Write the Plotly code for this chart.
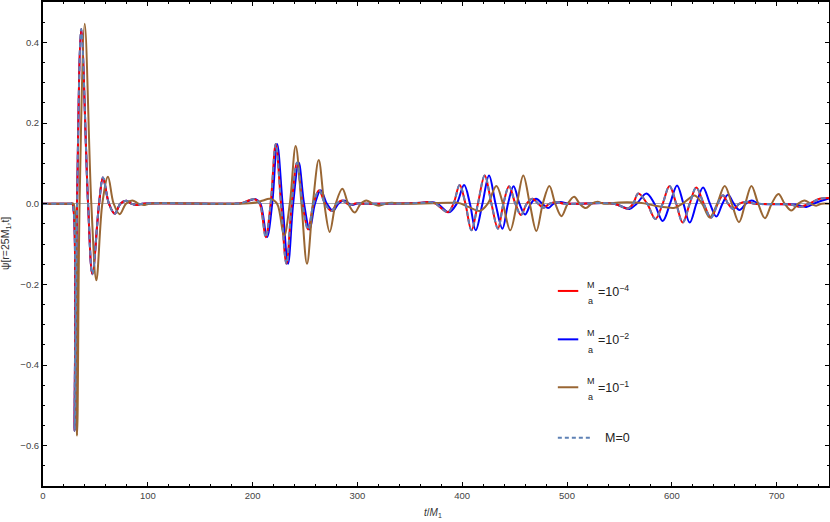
import plotly.graph_objects as go

# psi(r=25 M1, t): peaks, troughs and zero crossings
# M/a = 1e-4 (red); the M=0 dashed curve sits exactly on top of it
t_red = [0, 26.7, 28.0, 30.2, 32.5, 36.5, 43.0, 47.1, 53.5, 57.2, 62.9, 68.4, 73.8, 79.5, 84.2, 89.1, 95.1,
         183, 190.2, 196.1, 202.1, 206.8, 212.5, 217.2, 222.1, 227.1, 232.3, 237.3, 242.4, 247.6, 252.9,
         258.1, 263.4, 269.2, 275.2, 280.3, 285.3, 292.2, 299.1, 307,
         361.5, 368.5, 374.4, 386.3, 391.7, 397.6, 403.1, 408.8, 415, 421.5, 427.9, 434.1, 439.3, 444.7,
         450.7, 456.1, 461.6, 467, 472.5, 477.4, 483.4, 490.3, 497.2,
         544.8, 558.2, 563.1, 568, 576.5, 584.4, 591.3, 597.8, 604.2, 610.4, 617.1, 623.3, 630.5, 637.4,
         643.8, 648.8, 653.7, 658.7, 664.6, 671.1, 678.5, 713.2, 722.1, 731, 741, 750]
psi_red = [0, 0, 0, -0.563, 0, 0.433, 0, -0.175, 0, 0.065, 0, -0.025, 0, 0.007, 0, -0.003, 0,
           0, 0.002, 0.008, 0.011, 0, -0.083, 0, 0.148, 0, -0.149, 0, 0.102, 0, -0.064,
           0, 0.033, 0, -0.018, 0, 0.008, -0.003, 0.001, 0,
           0.002, 0.004, 0, -0.021, 0, 0.046, 0, -0.066, 0, 0.07, 0, -0.062, 0, 0.043,
           0, -0.028, 0, 0.012, 0, -0.01, 0, 0.004, 0,
           0, -0.012, 0, 0.025, 0, -0.038, 0, 0.044, 0, -0.047, 0, 0.04, 0, -0.035,
           0, 0.021, 0, -0.013, 0, 0.005, 0, -0.002, -0.008, 0, 0.012, 0.014]

# M/a = 1e-2 (blue)
t_blue = [0, 26.7, 28.0, 30.2, 32.5, 36.5, 43.0, 47.1, 53.5, 57.2, 62.9, 68.4, 73.8, 79.5, 84.2, 89.1, 95.1,
          183, 191.2, 197.1, 203, 207.5, 213.7, 218.7, 223.4, 228.6, 233.8, 238.7, 244, 249.1, 254.4,
          259.5, 265, 270.9, 276.8, 281.8, 287.2, 294.2, 301.1, 309,
          361.5, 369.5, 376.4, 387.3, 394.8, 401.8, 407.4, 412.9, 419.3, 425.6, 431.8, 438.4, 443.7, 449,
          454.6, 460, 465.5, 470.5, 476.4, 481.9, 487.3, 493.8, 501.2,
          544.8, 559.6, 566.5, 575.8, 583.4, 591.3, 598.3, 605, 611.1, 617.1, 623.5, 629.8, 636.4, 642.5,
          648.3, 653.6, 659.2, 664.6, 670.6, 676, 683.4, 718.1, 728.4, 738, 750]
psi_blue = [0, 0, 0, -0.563, 0, 0.433, 0, -0.175, 0, 0.065, 0, -0.025, 0, 0.007, 0, -0.003, 0,
            0, 0.002, 0.008, 0.011, 0, -0.083, 0, 0.148, 0, -0.149, 0, 0.102, 0, -0.064,
            0, 0.033, 0, -0.018, 0, 0.008, -0.003, 0.001, 0,
            0.002, 0.004, 0, -0.021, 0, 0.046, 0, -0.066, 0, 0.07, 0, -0.062, 0, 0.043,
            0, -0.027, 0, 0.012, 0, -0.011, 0, 0.004, 0,
            0, -0.013, 0, 0.025, 0, -0.043, 0, 0.045, 0, -0.047, 0, 0.04, 0, -0.032,
            0, 0.022, 0, -0.016, 0, 0.008, 0, -0.002, -0.008, 0.003, 0.013]

# M/a = 1e-1 (brown)
t_brown = [0, 27.5, 29.2, 32.5, 34.9, 39.8, 46.1, 50.9, 56.6, 62, 67.4, 73.2, 79.2, 85.3, 91.1, 96.1, 102,
           188, 203, 210, 216.3, 223.3, 230, 235.5, 241.1, 246.6, 251.9, 257.5, 263.1, 268.4, 273.6,
           279.3, 285.7, 291.2, 297.4, 303.1, 308.6, 314.5, 320.6, 326.9, 332.8, 341.7,
           386.3, 396.2, 406.1, 416.7, 424.4, 432.6, 438.8, 445.8, 452.2, 458.3, 464.5, 470.8, 476.9,
           483.2, 488.8, 494.7, 500.7, 506.8, 512.1, 518, 523.5, 529.2, 534.9,
           549.7, 569.5, 584.4, 594.3, 602.8, 610.1, 616.1, 621.8, 628.9, 636.2, 643.3, 650.5, 657.2,
           664.1, 670.1, 676, 682.4, 688.9, 695.3, 701.8, 707.7, 714.1, 720.6, 726.7, 732.5, 737.7, 743, 750]
psi_brown = [0, 0, 0, -0.575, 0, 0.446, 0, -0.19, 0, 0.067, 0, -0.026, 0, 0.008, 0, -0.003, 0,
             0, 0.003, 0.008, 0.012, 0, -0.08, 0, 0.143, 0, -0.149, 0, 0.108, 0, -0.07,
             0, 0.037, 0, -0.022, 0, 0.008, 0, -0.005, 0, 0.002, 0,
             0.002, 0.002, -0.008, -0.018, 0, 0.044, 0, -0.066, 0, 0.07, 0, -0.068, 0,
             0.044, 0, -0.031, 0, 0.017, 0, -0.011, 0, 0.005, 0,
             0.003, 0.002, -0.005, -0.009, -0.01, 0, 0.012, 0.02, 0, -0.034, 0, 0.044, 0,
             -0.046, 0, 0.044, 0, -0.036, 0, 0.024, 0, -0.017, 0, 0.008, 0, -0.005, 0, 0]

RED = "#ff0000"
BLUE = "#0000ff"
BROWN = "#996633"
STEEL = "#5e81b5"
FONT = "Liberation Sans, Arial, sans-serif"

fig = go.Figure()
line_common = {"shape": "spline", "smoothing": 1.0, "width": 2}
fig.add_trace(go.Scatter(x=t_blue, y=psi_blue, mode="lines", name="M/a=1e-2",
                         line={**line_common, "color": BLUE}, showlegend=False))
fig.add_trace(go.Scatter(x=t_red, y=psi_red, mode="lines", name="M/a=1e-4",
                         line={**line_common, "color": RED}, showlegend=False))
fig.add_trace(go.Scatter(x=t_brown, y=psi_brown, mode="lines", name="M/a=1e-1",
                         line={**line_common, "color": BROWN}, showlegend=False))
fig.add_trace(go.Scatter(x=t_red, y=psi_red, mode="lines", name="M=0",
                         line={**line_common, "color": STEEL, "dash": "5px,3px"}, showlegend=False))

# hand-drawn legend, placed like the original (inside the frame)
legend_rows = [
    (0.403, RED, "10<sup>\u22124</sup>"),
    (0.303, BLUE, "10<sup>\u22122</sup>"),
    (0.204, BROWN, "10<sup>\u22121</sup>"),
]
shapes = []
annotations = []
for yy, col, power in legend_rows:
    shapes.append(dict(type="line", xref="paper", yref="paper", x0=0.655, x1=0.681, y0=yy, y1=yy,
                       line=dict(color=col, width=2)))
    annotations.append(dict(xref="paper", yref="paper", x=0.697, y=yy + 0.0125, text="M",
                            xanchor="center", yanchor="middle", showarrow=False,
                            font=dict(family=FONT, size=9, color="#222")))
    annotations.append(dict(xref="paper", yref="paper", x=0.697, y=yy - 0.021, text="a",
                            xanchor="center", yanchor="middle", showarrow=False,
                            font=dict(family=FONT, size=9, color="#222")))
    annotations.append(dict(xref="paper", yref="paper", x=0.7035, y=yy, xanchor="left", yanchor="middle",
                            text="=" + power, showarrow=False, font=dict(family=FONT, size=12.5, color="#222")))
shapes.append(dict(type="line", xref="paper", yref="paper", x0=0.655, x1=0.697, y0=0.0998, y1=0.0998,
                   line=dict(color=STEEL, width=2, dash="4px,3px")))
annotations.append(dict(xref="paper", yref="paper", x=0.713, y=0.0998, xanchor="left", yanchor="middle",
                        text="M=0", showarrow=False, font=dict(family=FONT, size=12.5, color="#222")))

# axis titles
annotations.append(dict(xref="paper", yref="paper", x=0.496, y=-0.056, xanchor="center", yanchor="middle",
                        text="<i>t</i>/<i>M</i><sub>1</sub>", showarrow=False,
                        font=dict(family=FONT, size=10, color="#333")))
annotations.append(dict(xref="paper", yref="paper", x=-0.047, y=0.5, xanchor="center", yanchor="middle",
                        textangle=-90, text="\u03c8[r=25M<sub>1</sub>,t]", showarrow=False,
                        font=dict(family=FONT, size=10.5, color="#333")))

axis_common = dict(
    showline=True, linecolor="black", linewidth=2, mirror="ticks",
    ticks="inside", ticklen=4, tickwidth=1, tickcolor="black",
    showgrid=False, automargin=False, tickfont=dict(family=FONT, size=9.5, color="#444"),
)

fig.update_layout(
    width=830, height=522,
    margin=dict(l=43, r=1, t=2, b=36),
    paper_bgcolor="white", plot_bgcolor="white",
    font=dict(family=FONT, size=10, color="#333"),
    shapes=shapes, annotations=annotations,
    xaxis=dict(axis_common, range=[0, 750], dtick=100, zeroline=False,
               minor=dict(dtick=20, ticks="inside", ticklen=2, tickcolor="black")),
    yaxis=dict(axis_common, range=[-0.7, 0.5], dtick=0.2, tickformat=".1f",
               zeroline=True, zerolinecolor="#aaaaaa", zerolinewidth=1,
               minor=dict(dtick=0.05, ticks="inside", ticklen=2, tickcolor="black")),
)

# the page body has a default 8px margin; drop it so the figure fills the window
fig.write_html("out.html", config={"displayModeBar": False},
               post_script="document.body.style.margin='0px';")
